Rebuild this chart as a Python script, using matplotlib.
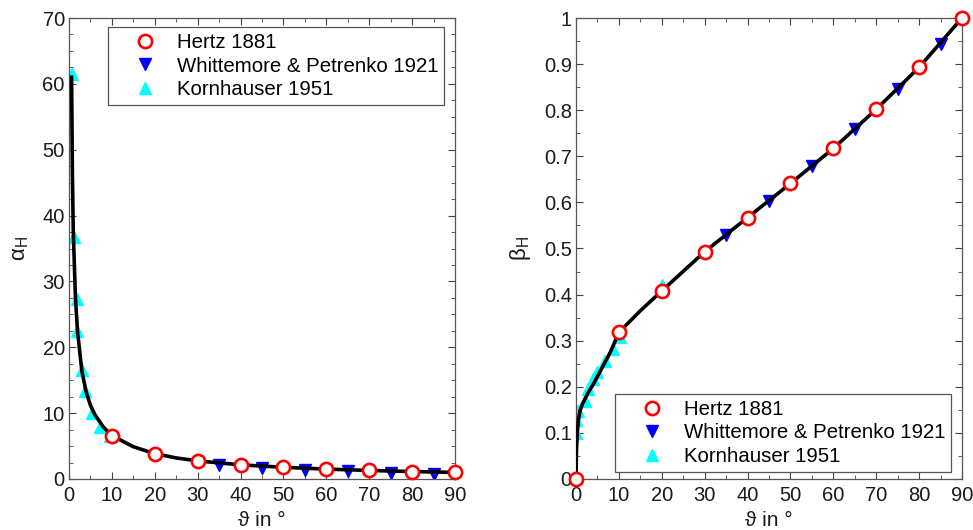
import matplotlib
matplotlib.use("Agg")
import matplotlib.pyplot as plt
from matplotlib.ticker import MultipleLocator, FuncFormatter

plt.rcParams['font.family'] = ['Liberation Sans', 'DejaVu Sans']
plt.rcParams['mathtext.fontset'] = 'custom'
plt.rcParams['mathtext.rm'] = 'Liberation Sans'
plt.rcParams['mathtext.it'] = 'Liberation Sans'

# ---- data ----
theta_curve_a = [0.6, 0.8, 1.0, 1.5, 2, 3, 4, 5, 6, 8, 10, 15, 20, 25, 30, 40, 50, 60, 70, 80, 90]
alpha_curve = [61.0, 46.0, 37.5, 27.5, 22.3, 16.4, 13.2, 11.2, 9.8, 7.9, 6.6, 4.9, 3.85, 3.2,
               2.75, 2.15, 1.78, 1.5, 1.3, 1.13, 1.0]
theta_curve_b = [0, 0.1, 0.3, 0.6, 1, 1.5, 2, 3, 4, 6, 8, 10, 15, 20, 30, 40, 50, 60, 70, 80, 90]
beta_curve = [0, 0.06, 0.10, 0.13, 0.15, 0.163, 0.172, 0.19, 0.205, 0.24, 0.275, 0.318, 0.365,
              0.408, 0.493, 0.567, 0.641, 0.717, 0.802, 0.893, 1.0]

theta_hertz_a = [10, 20, 30, 40, 50, 60, 70, 80, 90]
alpha_hertz = [6.6, 3.8, 2.7, 2.1, 1.8, 1.5, 1.3, 1.1, 1.0]
theta_hertz_b = [0, 10, 20, 30, 40, 50, 60, 70, 80, 90]
beta_hertz = [0, 0.318, 0.408, 0.493, 0.567, 0.641, 0.717, 0.802, 0.893, 1.0]

theta_wp = [35, 45, 55, 65, 75, 85]
alpha_wp = [2.1, 1.6, 1.35, 1.15, 0.95, 0.8]
beta_wp = [0.53, 0.604, 0.678, 0.759, 0.846, 0.944]

theta_korn_a = [0.65, 1.05, 1.8, 1.95, 2.95, 3.7, 5.3, 7.2, 9.5, 20]
alpha_korn = [61.5, 36.8, 27.4, 22.4, 16.5, 13.3, 10.0, 7.9, 6.6, 3.9]
theta_korn_b = [0, 0, 0.5, 2.0, 2.8, 4.0, 5.0, 6.7, 8.6, 10.2, 20]
beta_korn = [0.10, 0.127, 0.148, 0.17, 0.195, 0.217, 0.232, 0.257, 0.282, 0.307, 0.42]

labels = ['Hertz 1881', 'Whittemore & Petrenko 1921', 'Kornhauser 1951']

fig = plt.figure(figsize=(9.73, 5.30), dpi=100)
ax1 = fig.add_axes([69/973, 51/530, 386/973, 461/530])
ax2 = fig.add_axes([576/973, 51/530, 386/973, 461/530])

def draw(ax, tk, yk, tw, yw, tc, yc, th, yh):
    k, = ax.plot(tk, yk, linestyle='none', marker='^', ms=8.5, color='#00ffff', mec='#00ffff', zorder=2)
    w, = ax.plot(tw, yw, linestyle='none', marker='v', ms=8.5, color='#0000ff', mec='#0000ff', zorder=2)
    ax.plot(tc, yc, color='black', lw=2.6, zorder=3)
    h, = ax.plot(th, yh, linestyle='none', marker='o', ms=9.5, mfc='white', mec='#ff0000',
                 mew=1.9, zorder=4, clip_on=False)
    return [h, w, k]

hs1 = draw(ax1, theta_korn_a, alpha_korn, theta_wp, alpha_wp, theta_curve_a, alpha_curve,
           theta_hertz_a, alpha_hertz)
hs2 = draw(ax2, theta_korn_b, beta_korn, theta_wp, beta_wp, theta_curve_b, beta_curve,
           theta_hertz_b, beta_hertz)

ax1.set_xlim(0, 90)
ax1.set_ylim(0, 70)
ax2.set_xlim(0, 90)
ax2.set_ylim(0, 1)
ax1.xaxis.set_major_locator(MultipleLocator(10))
ax1.xaxis.set_minor_locator(MultipleLocator(5))
ax1.yaxis.set_major_locator(MultipleLocator(10))
ax1.yaxis.set_minor_locator(MultipleLocator(2.5))
ax2.xaxis.set_major_locator(MultipleLocator(10))
ax2.xaxis.set_minor_locator(MultipleLocator(5))
ax2.yaxis.set_major_locator(MultipleLocator(0.1))
ax2.yaxis.set_minor_locator(MultipleLocator(0.05))
ax2.yaxis.set_major_formatter(FuncFormatter(lambda v, p: '%g' % round(v, 2)))

for ax in (ax1, ax2):
    ax.tick_params(which='both', direction='in', top=True, right=True, color='#444444',
                   labelsize=14.5, labelcolor='#1a1a1a')
    ax.tick_params(which='major', length=5, width=0.8)
    ax.tick_params(which='minor', length=3, width=0.6)
    ax.tick_params(axis='x', which='major', pad=5)
    ax.tick_params(axis='y', which='major', pad=3)
    for s in ax.spines.values():
        s.set_color('#555555')
        s.set_linewidth(0.9)
    ax.set_xlabel('\u03d1 in \u00b0', fontsize=15, labelpad=4, color='#1a1a1a')

ax1.set_ylabel(r'$\mathrm{\alpha_H}$', fontsize=16, labelpad=8, color='#1a1a1a')
ax2.set_ylabel(r'$\mathrm{\beta_H}$', fontsize=16, labelpad=8, color='#1a1a1a')

leg_kw = dict(fontsize=14.7, frameon=True, fancybox=False, framealpha=1, edgecolor='#555555',
              borderpad=0.3, labelspacing=0.22, handletextpad=0.06, handlelength=3.0,
              borderaxespad=0)
l1 = ax1.legend(hs1, labels, loc='upper left', bbox_to_anchor=((108-69)/386, (479-27)/461), **leg_kw)
l2 = ax2.legend(hs2, labels, loc='lower left', bbox_to_anchor=((615-576)/386, (479-472)/461), **leg_kw)
for l in (l1, l2):
    l.get_frame().set_linewidth(0.9)
    l.set_zorder(5)

fig.savefig('out.png', dpi=100, facecolor='white')
